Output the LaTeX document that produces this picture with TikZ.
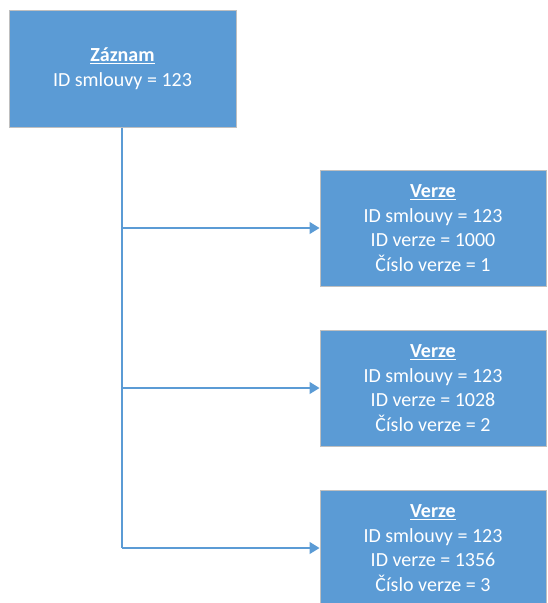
\documentclass[tikz,border=0pt]{standalone}
\usepackage{fontspec}
\setmainfont{Carlito}
\usepackage{xcolor}
\definecolor{Col1}{RGB}{91,155,213}
\definecolor{Col5}{RGB}{191,191,191}
\usepackage{tikz}
\usetikzlibrary{arrows.meta}
\tikzstyle{Box}=[rectangle,draw=Col5,fill=Col1,line width=1pt,
text=white,align=center,inner sep=0pt,
font=\fontsize{20pt}{24.5pt}\selectfont]
\tikzstyle{Edge}=[draw=Col1,line width=1.5pt]
\tikzstyle{Arrow}=[Edge,-{Triangle[length=10pt,width=12pt]}]
\newcommand{\Title}[1]{\underline{\textbf{#1}}}

\begin{document}
\begin{tikzpicture}[x=1pt,y=-1pt]
            \useasboundingbox (0,0) rectangle (547,603);
            \node[Box,minimum width=227pt,minimum height=117pt](z)
                at(122.5,68.5){\Title{Záznam}\\ID smlouvy = 123};
            \node[Box,minimum width=226pt,minimum height=116pt](v1)
                at(433,228){\Title{Verze}\\ID smlouvy = 123\\
                ID verze = 1000\\Číslo verze = 1};
            \node[Box,minimum width=226pt,minimum height=116pt](v2)
                at(433,388){\Title{Verze}\\ID smlouvy = 123\\
                ID verze = 1028\\Číslo verze = 2};
            \node[Box,minimum width=226pt,minimum height=116pt](v3)
                at(433,548){\Title{Verze}\\ID smlouvy = 123\\
                ID verze = 1356\\Číslo verze = 3};
            \coordinate(b1)at(122,228);
            \coordinate(b2)at(122,388);
            \coordinate(b3)at(122,548);
            \draw[Edge](z.south-|b1)--(b3);
            \draw[Arrow](b1)--(v1.west);
            \draw[Arrow](b2)--(v2.west);
            \draw[Arrow](b3)--(v3.west);
\end{tikzpicture}
\end{document}
